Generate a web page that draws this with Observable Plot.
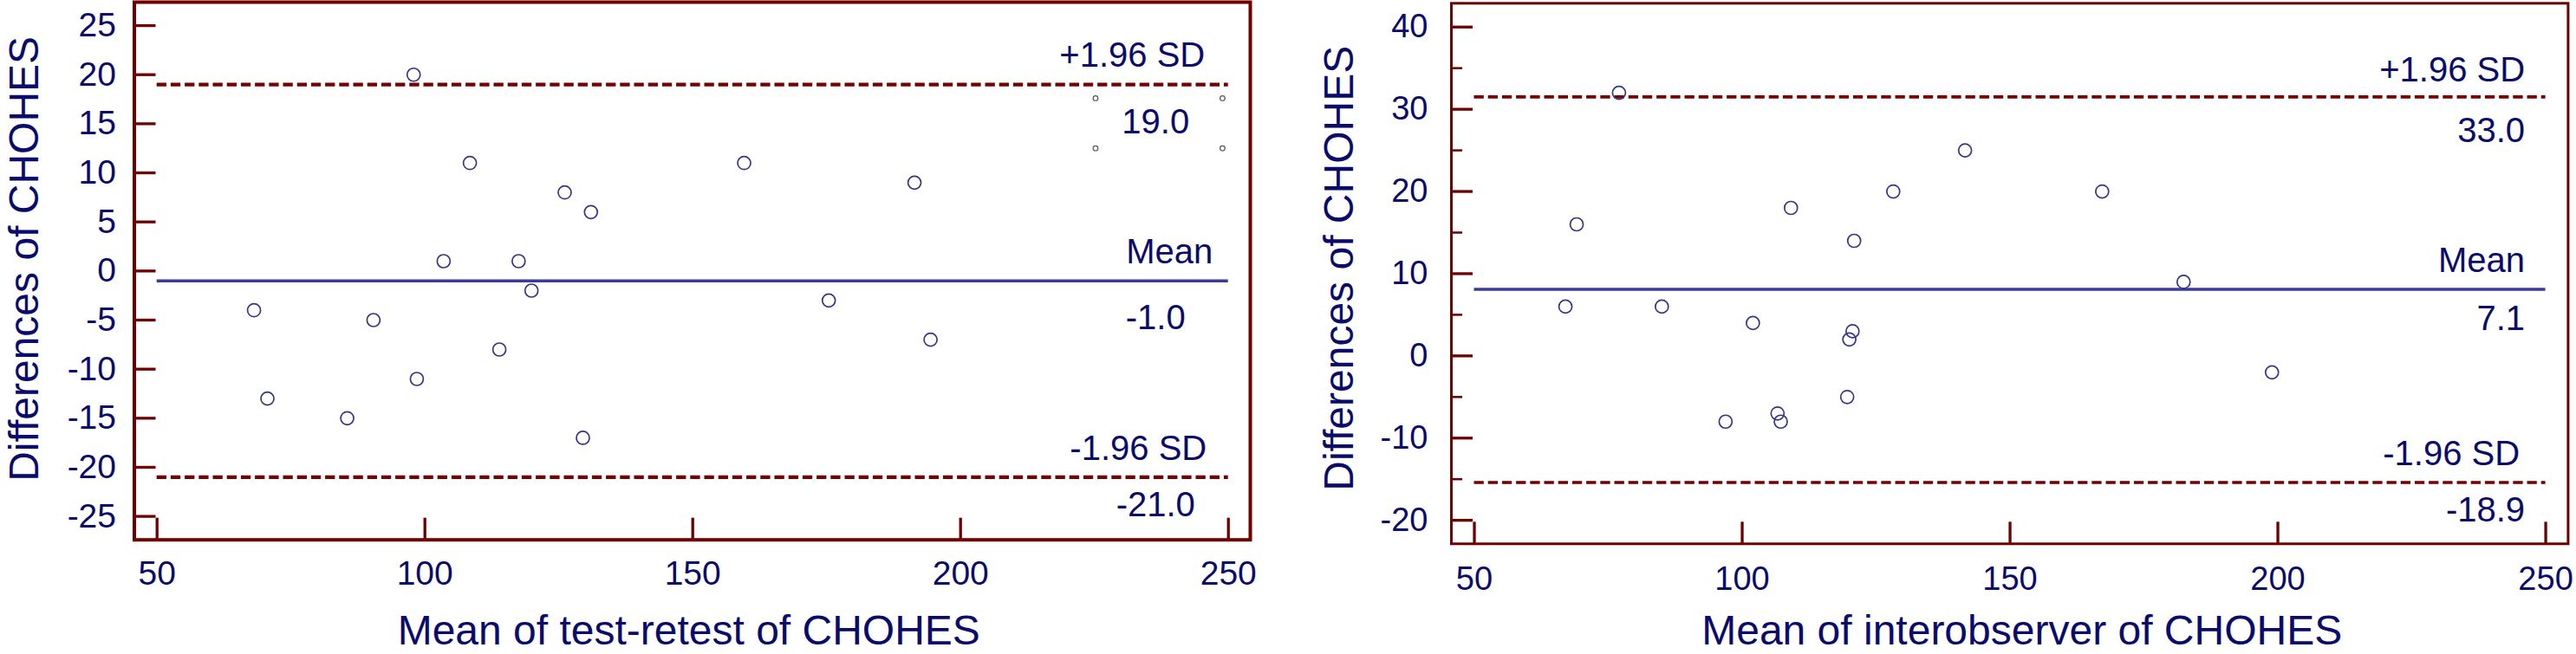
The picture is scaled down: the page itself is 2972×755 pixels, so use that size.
<!DOCTYPE html>
<html>
<head>
<meta charset="utf-8">
<script src="https://cdn.jsdelivr.net/npm/d3@7"></script>
<script src="https://cdn.jsdelivr.net/npm/@observablehq/plot@0.6"></script>
<style>
  html, body { margin: 0; padding: 0; background: #fff; }
  #wrap { display: flex; width: 2972px; height: 755px; overflow: hidden; }
  #wrap svg { display: block; }
</style>
</head>
<body>
<div id="wrap"></div>
<script>
// ---------- data ----------
const yTitle = "Differences of CHOHES";
const xTitleLeft = "Mean of test-retest of CHOHES";
const xTitleRight = "Mean of interobserver of CHOHES";

const lineNames = ["+1.96 SD", "Mean", "-1.96 SD"];
const lineStart = 50;
const lineEnd = 250;

// Left panel: test-retest
const leftMeans = [97.9, 108.4, 126.1, 131.0, 103.5, 117.5, 119.9, 68.1, 90.4, 113.9, 98.5, 70.6, 85.5, 129.5, 159.6, 191.4, 175.4, 194.4];
const leftDiffs = [20, 11, 8, 6, 1, 1, -2, -4, -5, -8, -11, -13, -15, -17, 11, 9, -3, -7];
const leftLineValues = [19.0, -1.0, -21.0];
const leftLineTexts = ["19.0", "-1.0", "-21.0"];
const leftXTicks = [50, 100, 150, 200, 250];
const leftYTicks = [-25, -20, -15, -10, -5, 0, 5, 10, 15, 20, 25];
const leftYMinor = [];
// small selection-handle circles visible around the "19.0" label
const handleX = [225.2, 248.9, 225.2, 248.9];
const handleY = [17.6, 17.6, 12.5, 12.5];

// Right panel: interobserver
const rightMeans = [77.0, 69.1, 109.1, 128.2, 120.9, 67.0, 85.0, 102.0, 120.6, 120.0, 119.6, 106.6, 107.2, 96.9, 141.6, 167.2, 182.4, 198.9];
const rightDiffs = [32, 16, 18, 20, 14, 6, 6, 4, 3, 2, -5, -7, -8, -8, 25, 20, 9, -2];
const rightLineValues = [31.5, 8.1, -15.4];
const rightLineTexts = ["33.0", "7.1", "-18.9"];
const rightXTicks = [50, 100, 150, 200, 250];
const rightYTicks = [-20, -10, 0, 10, 20, 30, 40];
const rightYMinor = [-15, -5, 5, 15, 25, 35];

// ---------- style ----------
const FONT = '"Liberation Sans", Arial, Helvetica, sans-serif';
const frameColor = "#6e0000";
const sdColor = "#740000";
const meanColor = "#3a3d98";
const textColor = "#0b0b6b";
const pointColor = "#35358a";

function panel(cfg) {
  const pts = cfg.means.map((m, i) => ({x: m, y: cfg.diffs[i]}));
  const lines = cfg.lineValues.map((v, i) => ({name: lineNames[i], value: v, text: cfg.lineTexts[i], x1: lineStart, x2: lineEnd}));
  const sdLines = [lines[0], lines[2]];
  const meanLines = [lines[1]];
  const blank = () => "";

  const marks = [
    Plot.frame({stroke: frameColor, strokeWidth: cfg.frameWidth}),
    // inward ticks (no text)
    Plot.axisY(cfg.yTicks, {anchor: "left", tickSize: -25, tickFormat: blank, label: null, stroke: frameColor, strokeWidth: 3.3}),
    Plot.axisX(cfg.xTicks, {anchor: "bottom", tickSize: -25, tickFormat: blank, label: null, stroke: frameColor, strokeWidth: 3.3}),
    // tick labels (no tick lines)
    Plot.axisY(cfg.yTicks, {anchor: "left", tickSize: 0, tickPadding: cfg.yPad, fontSize: cfg.tickFont, fill: textColor, label: null, tickFormat: d => String(d)}),
    Plot.axisX(cfg.xTicks, {anchor: "bottom", tickSize: 0, tickPadding: cfg.xPad, fontSize: cfg.tickFont, fill: textColor, label: null, tickFormat: d => String(d)}),
    Plot.ruleY(sdLines, {y: "value", x1: "x1", x2: "x2", stroke: sdColor, strokeWidth: cfg.dashWidth, strokeDasharray: "11.3,4.9"}),
    Plot.ruleY(meanLines, {y: "value", x1: "x1", x2: "x2", stroke: meanColor, strokeWidth: 3.4}),
    Plot.dot(pts, {x: "x", y: "y", r: 7.5, stroke: pointColor, strokeWidth: 1.7, fill: "none"}),
    Plot.text([cfg.xTitle], {frameAnchor: "bottom", lineAnchor: "bottom", dy: cfg.xTitleDy, dx: cfg.xTitleDx, fontSize: 48, fill: textColor}),
    Plot.text([yTitle], {frameAnchor: "left", rotate: -90, lineAnchor: "top", textAnchor: "middle", dx: cfg.yTitleDx, dy: cfg.yTitleDy, fontSize: 48, fill: textColor})
  ];
  if (cfg.yMinor.length) {
    marks.push(Plot.axisY(cfg.yMinor, {anchor: "left", tickSize: -13, tickFormat: blank, label: null, stroke: frameColor, strokeWidth: 2.5}));
  }
  lines.forEach((l, i) => {
    marks.push(Plot.text([l], {x: "x2", y: "value", text: "name", textAnchor: "end", lineAnchor: "bottom",
      dx: cfg.nameDx[i], dy: cfg.nameDy[i], fontSize: 40, fill: textColor}));
    marks.push(Plot.text([l], {x: "x2", y: "value", text: "text", textAnchor: cfg.valueAnchor, lineAnchor: "bottom",
      dx: cfg.valueDx[i], dy: cfg.valueDy[i], fontSize: 40, fill: textColor}));
  });
  if (cfg.handles) {
    const hs = handleX.map((x, i) => ({x, y: handleY[i]}));
    marks.push(Plot.dot(hs, {x: "x", y: "y", r: 2.8, stroke: "#555", strokeWidth: 1.2, fill: "white"}));
  }

  return Plot.plot({
    width: cfg.width,
    height: 755,
    marginLeft: cfg.mL,
    marginRight: cfg.mR,
    marginTop: cfg.mT,
    marginBottom: cfg.mB,
    style: {fontFamily: FONT, background: "white", overflow: "visible"},
    x: {domain: cfg.xDomain, label: null},
    y: {domain: cfg.yDomain, label: null},
    marks
  });
}

const wrap = document.getElementById("wrap");
wrap.appendChild(panel({
  width: 1490, mL: 154.5, mR: 48, mT: 2, mB: 132.3, frameWidth: 4, tickFont: 39, dashWidth: 4.2,
  xDomain: [45.76, 254.09], yDomain: [-27.39, 27.39],
  means: leftMeans, diffs: leftDiffs, lineValues: leftLineValues, lineTexts: leftLineTexts,
  xTicks: leftXTicks, yTicks: leftYTicks, yMinor: leftYMinor,
  xTitle: xTitleLeft, xTitleDx: -4, xTitleDy: 120.3, yTitleDx: -145, yTitleDy: -14,
  yPad: 21, xPad: 24,
  nameDx: [-27, -18, -25], nameDy: [-21, -20, -20],
  valueAnchor: "middle", valueDx: [-84, -84, -84], valueDy: [56, 56, 45],
  handles: true
}));
wrap.appendChild(panel({
  width: 1482, mL: 184, mR: 9.6, mT: 3.3, mB: 127.7, frameWidth: 3, tickFont: 38, dashWidth: 3.6,
  xDomain: [45.71, 254.18], yDomain: [-22.86, 42.89],
  means: rightMeans, diffs: rightDiffs, lineValues: rightLineValues, lineTexts: rightLineTexts,
  xTicks: rightXTicks, yTicks: rightYTicks, yMinor: rightYMinor,
  xTitle: xTitleRight, xTitleDx: 14, xTitleDy: 116, yTitleDx: -148, yTitleDy: -6,
  yPad: 27, xPad: 26,
  nameDx: [-24, -24, -30], nameDy: [-18, -20, -20],
  valueAnchor: "end", valueDx: [-24, -24, -24], valueDy: [52, 47, 45],
  handles: false
}));
</script>
</body>
</html>
